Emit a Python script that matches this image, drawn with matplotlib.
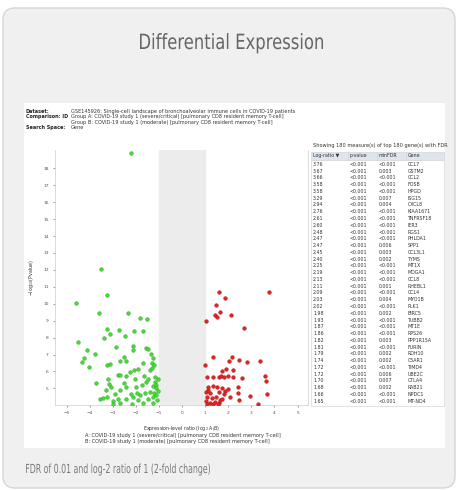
"""
Differential expression card: volcano plot with the top-gene table
and the dataset header, redrawn from a screenshot.
"""

import matplotlib
matplotlib.use("Agg")
import matplotlib.pyplot as plt
from matplotlib.patches import FancyBboxPatch, Rectangle, PathPatch
from matplotlib.textpath import TextPath
from matplotlib.transforms import Affine2D
from matplotlib.font_manager import FontProperties

# --- data -------------------------------------------------------------------

# down-regulated genes (green): log2 ratio, -log10 p
down_ratio = [-2.20, -3.49, -4.57, -3.27, -3.59, -2.32, -1.83, -1.50, -4.50, -3.26,
              -3.11, -3.39, -2.72, -2.46, -2.10, -1.70, -4.11, -3.78, -4.25, -4.34,
              -4.03, -2.88, -2.13, -2.13, -1.54, -1.46, -1.34, -1.27, -2.50, -2.42,
              -2.68, -3.23, -3.10, -1.71, -1.32, -1.21, -2.26, -2.06, -1.89, -1.40,
              -1.31, -3.72, -3.21, -2.78, -2.67, -2.42, -2.03, -1.64, -1.46, -3.18,
              -3.07, -2.52, -2.43, -2.00, -1.74, -1.54, -1.28, -1.18, -1.14, -1.11,
              -2.69, -3.30, -2.91, -2.23, -1.95, -1.83, -1.61, -1.37, -1.20, -3.54,
              -3.44, -3.24, -2.98, -2.78, -2.44, -2.12, -1.89, -1.46, -1.25, -1.11,
              -3.01, -2.69, -2.18, -1.69, -1.28, -1.08, -1.05, -1.05, -1.18]
down_logp = [18.89, 12.04, 10.06, 10.53, 9.45, 9.47, 9.18, 9.12, 7.75, 8.50,
             8.22, 7.99, 8.46, 8.07, 8.38, 8.40, 7.25, 7.01, 6.78, 6.54,
             6.25, 7.44, 7.52, 7.29, 7.40, 7.32, 7.01, 6.82, 6.86, 6.60,
             6.62, 6.41, 6.43, 6.52, 6.50, 6.39, 5.98, 6.11, 6.15, 6.11,
             6.23, 5.29, 5.53, 5.82, 5.82, 5.76, 5.57, 5.72, 5.53, 5.25,
             5.06, 5.33, 5.10, 5.10, 5.21, 5.35, 5.14, 5.39, 5.20, 5.00,
             4.90, 4.90, 4.67, 4.67, 4.71, 4.61, 4.75, 4.80, 4.71, 4.38,
             4.43, 4.51, 4.28, 4.36, 4.38, 4.51, 4.32, 4.36, 4.47, 4.61,
             4.08, 4.12, 4.08, 4.12, 4.16, 4.32, 5.53, 4.86, 5.68]

# up-regulated genes (red)
up_ratio = [1.61, 1.86, 3.78, 1.46, 1.64, 1.43, 1.53, 2.10, 1.05, 2.67,
            1.01, 1.35, 2.16, 2.03, 2.46, 2.80, 3.39, 1.71, 1.92, 2.22,
            1.08, 1.34, 1.61, 1.70, 1.83, 1.97, 2.22, 2.61, 3.60, 3.65,
            1.11, 1.34, 1.51, 1.74, 1.84, 1.98, 2.40, 1.02, 1.22, 1.60,
            1.80, 2.43, 3.67, 1.10, 1.31, 1.48, 2.09, 2.95, 1.02, 1.20,
            1.41, 1.59, 1.66, 2.47, 1.08, 1.33, 1.56, 3.27, 1.74, 1.14]
up_logp = [10.70, 10.33, 10.72, 9.90, 9.49, 9.34, 9.24, 9.34, 8.98, 8.59,
           6.41, 6.88, 6.84, 6.64, 6.70, 6.54, 6.62, 6.04, 6.17, 6.09,
           5.66, 5.68, 5.68, 5.74, 5.68, 5.72, 5.68, 5.61, 5.72, 5.45,
           5.06, 5.14, 5.10, 5.00, 4.84, 4.94, 5.06, 4.80, 4.71, 4.77,
           4.67, 4.71, 4.67, 4.47, 4.41, 4.51, 4.47, 4.55, 4.28, 4.16,
           4.22, 4.12, 4.32, 4.32, 4.06, 4.08, 4.06, 4.06, 4.36, 4.90]

x_ticks = [-5, -4, -3, -2, -1, 0, 1, 2, 3, 4, 5]
y_ticks = [5, 6, 7, 8, 9, 10, 11, 12, 13, 14, 15, 16, 17, 18]

# top genes table
table_cols = ["Log-ratio \u25bc", "p-value", "minFDR", "Gene"]
log_ratio = ["3.76", "3.67", "3.66", "3.58", "3.58", "3.29", "2.94", "2.76", "2.61",
             "2.60", "2.48", "2.47", "2.47", "2.45", "2.40", "2.25", "2.19", "2.13",
             "2.11", "2.09", "2.03", "2.02", "1.98", "1.93", "1.87", "1.86", "1.82",
             "1.81", "1.79", "1.74", "1.72", "1.72", "1.70", "1.68", "1.66", "1.65"]
p_value = ["<0.001"] * len(log_ratio)
min_fdr = ["<0.001", "0.003", "<0.001", "<0.001", "<0.001", "0.007", "0.004", "<0.001",
           "<0.001", "<0.001", "<0.001", "<0.001", "0.006", "0.003", "0.002", "<0.001",
           "<0.001", "<0.001", "0.001", "<0.001", "0.004", "<0.001", "0.002", "<0.001",
           "<0.001", "<0.001", "0.003", "<0.001", "0.002", "0.002", "<0.001", "0.006",
           "0.007", "0.002", "<0.001", "<0.001"]
genes = ["CCL7", "GSTM2", "CCL2", "FOSB", "HPGD", "ISG15", "CXCL8", "KIAA1671",
         "TNFRSF18", "IER3", "RGS1", "PHLDA1", "SPP1", "CCL3L1", "TYMS", "MT1X",
         "MDGA1", "CCL8", "RHEBL1", "CCL4", "MYO1B", "PLK1", "BIRC5", "TUBB2",
         "MT1E", "RPS26", "PPP1R15A", "FURIN", "RDH10", "C5AR1", "TIMD4", "UBE2C",
         "CTLA4", "RAB21", "NPDC1", "MT-ND4"]

header_rows = [
    ("Dataset:", "GSE145926: Single-cell landscape of bronchoalveolar immune cells in COVID-19 patients"),
    ("Comparison: ID", "Group A: COVID-19 study 1 (severe/critical) [pulmonary CD8 resident memory T-cell]"),
    ("", "Group B: COVID-19 study 1 (moderate) [pulmonary CD8 resident memory T-cell]"),
    ("Search Space:", "Gene"),
]
legend_lines = [
    "A: COVID-19 study 1 (severe/critical) [pulmonary CD8 resident memory T-cell]",
    "B: COVID-19 study 1 (moderate) [pulmonary CD8 resident memory T-cell]",
]

W, H = 460, 491


def narrow_text(ax, x, baseline, s, size, width, color, ha="left"):
    """Draw s squeezed to the given pixel width (no condensed font installed)."""
    tp = TextPath((0, 0), s, size=size, prop=FontProperties(family="DejaVu Sans"))
    bb = tp.get_extents()
    sx = width / bb.width
    x0 = x - width / 2 if ha == "center" else x
    # overlay axis runs top-down, so flip the glyphs vertically
    tr = Affine2D().translate(-bb.x0, 0).scale(sx, -1).translate(x0, baseline)
    ax.add_patch(PathPatch(tr.transform_path(tp), facecolor=color, edgecolor="none"))


fig = plt.figure(figsize=(W / 100, H / 100), dpi=100)
fig.patch.set_facecolor("white")

# full-figure overlay in pixel units for the card, texts and table
bg = fig.add_axes([0, 0, 1, 1])
bg.set_xlim(0, W)
bg.set_ylim(H, 0)
bg.axis("off")

card = FancyBboxPatch((3, 8), 452, 480, boxstyle="round,pad=0,rounding_size=12",
                      facecolor="#f0f0f0", edgecolor="#d6d6d6", linewidth=1.0)
bg.add_patch(card)
bg.add_patch(Rectangle((24, 103), 421, 345, facecolor="white", edgecolor="none"))

narrow_text(bg, 231.5, 49, "Differential Expression", 21, 183, "#666666", ha="center")
narrow_text(bg, 26, 473, "FDR of 0.01 and log-2 ratio of 1 (2-fold change)", 12.5, 184,
            "#7a7a7a")

# dataset header
for i, (label, value) in enumerate(header_rows):
    y = 111 + i * 5.6
    if label:
        bg.text(26, y, label, fontsize=3.5, fontweight="bold", color="#222222",
                ha="left", va="center")
    bg.text(71, y, value, fontsize=3.6, color="#333333", ha="left", va="center")

# legend under the volcano plot
for i, line in enumerate(legend_lines):
    bg.text(85, 435 + i * 7, line, fontsize=3.6, color="#333333", ha="left", va="center")

# table
col_x = [313, 350, 379, 408]
bg.text(313, 145, "Showing 180 measure(s) of top 180 gene(s) with FDR", fontsize=3.6,
        color="#333333", ha="left", va="center")
bg.add_patch(Rectangle((311, 151.5), 133, 8, facecolor="#dfe5ec", edgecolor="#c9d0d8",
                       linewidth=0.4))
bg.add_patch(Rectangle((311, 159.5), 133, 246, facecolor="white", edgecolor="#cccccc",
                       linewidth=0.4))
for cx in col_x[1:]:
    bg.plot([cx - 2, cx - 2], [151.5, 159.5], color="#c9d0d8", linewidth=0.4)
for cx, name in zip(col_x, table_cols):
    bg.text(cx, 155.6, name, fontsize=3.4, color="#333333", ha="left", va="center")
for i, row in enumerate(zip(log_ratio, p_value, min_fdr, genes)):
    y = 164.3 + i * 6.77
    for cx, val in zip(col_x, row):
        bg.text(cx, y, val, fontsize=3.4, color="#333333", ha="left", va="center")

# volcano plot
ax = fig.add_axes([55 / W, 1 - 405 / H, (308 - 55) / W, (405 - 150) / H])
ax.set_facecolor("white")
ax.axvspan(-1, 1, color="#ececec", zorder=0)
ax.scatter(down_ratio, down_logp, s=7, c="#44dd33", edgecolors="#2a9a22",
           linewidths=0.3, zorder=3)
ax.scatter(up_ratio, up_logp, s=7, c="#e82020", edgecolors="#9a1515",
           linewidths=0.3, zorder=3)
ax.set_xlim(-5.5, 5.45)
ax.set_ylim(4.02, 19.08)
ax.set_xticks(x_ticks)
ax.set_yticks(y_ticks)
ax.tick_params(labelsize=3.2, length=1.5, width=0.4, colors="#555555", pad=3)
for side in ["left", "bottom", "right"]:
    ax.spines[side].set_color("#cccccc")
    ax.spines[side].set_linewidth(0.5)
ax.spines["top"].set_visible(False)
ax.set_xlabel("Expression-level ratio (log$_2$ A/B)", fontsize=3.4, color="#333333",
              labelpad=6)
ax.set_ylabel("$-$log$_{10}$(Pvalue)", fontsize=3.4, color="#333333", labelpad=5)

fig.savefig("out.png", dpi=100)
